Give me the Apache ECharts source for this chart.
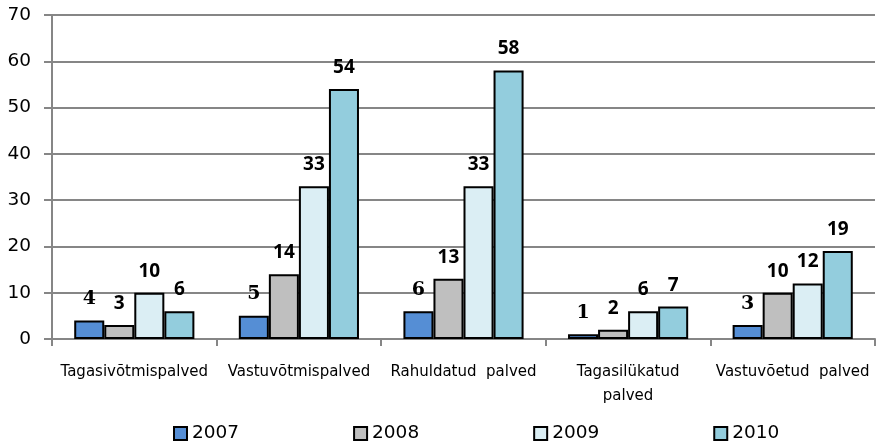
<!DOCTYPE html>
<html>
<head>
<meta charset="utf-8">
<script src="https://cdn.jsdelivr.net/npm/echarts@6/dist/echarts.min.js"></script>
<style>
  html, body { margin: 0; padding: 0; background: #fff; }
  #main { width: 876px; height: 446px; }
</style>
</head>
<body>
<div id="main"></div>
<script>
var categories = ['Tagasivõtmispalved', 'Vastuvõtmispalved', 'Rahuldatud  palved', 'Tagasilükatud\npalved', 'Vastuvõetud  palved'];
var years = ['2007', '2008', '2009', '2010'];
var values2007 = [4, 5, 6, 1, 3];
var values2008 = [3, 14, 13, 2, 10];
var values2009 = [10, 33, 33, 6, 12];
var values2010 = [6, 54, 58, 7, 19];
var colors = ['#558ed5', '#bfbfbf', '#dbeef4', '#93cddd'];

var myChart = echarts.init(document.getElementById('main'));

function makeSeries(name, data, color, labelFont) {
    return {
        name: name,
        type: 'bar',
        data: data,
        barGap: '0%',
        barCategoryGap: '27%',
        itemStyle: { color: color, borderColor: '#000', borderWidth: 2 },
        label: {
            show: true,
            position: 'top',
            distance: 12,
            color: '#000',
            fontSize: 19,
            fontWeight: 'bold',
            fontFamily: labelFont
        }
    };
}

myChart.setOption({
    animation: false,
    grid: { left: 52, right: 1, top: 15, bottom: 107 },
    legend: {
        data: years,
        top: 419,
        left: 168,
        itemWidth: 13,
        itemHeight: 13,
        itemGap: 114,
        icon: 'rect',
        textStyle: { fontSize: 18.5, color: '#000', fontFamily: 'DejaVu Sans' }
    },
    xAxis: {
        type: 'category',
        data: categories,
        axisLine: { lineStyle: { color: '#868686', width: 2 } },
        axisTick: { show: true, length: 7, lineStyle: { color: '#868686', width: 2 } },
        axisLabel: {
            color: '#000',
            fontSize: 15,
            fontFamily: 'DejaVu Sans',
            margin: 21,
            lineHeight: 24,
            interval: 0
        }
    },
    yAxis: {
        type: 'value',
        min: 0,
        max: 70,
        interval: 10,
        axisLine: { show: true, lineStyle: { color: '#868686', width: 2 } },
        axisTick: { show: true, length: 8, lineStyle: { color: '#868686', width: 2 } },
        splitLine: { lineStyle: { color: '#868686', width: 2 } },
        axisLabel: { color: '#000', fontSize: 18.5, fontFamily: 'DejaVu Sans', margin: 21 }
    },
    series: [
        makeSeries(years[0], values2007, colors[0], 'DejaVu Serif'),
        makeSeries(years[1], values2008, colors[1], 'Open Sans'),
        makeSeries(years[2], values2009, colors[2], 'Open Sans'),
        makeSeries(years[3], values2010, colors[3], 'Open Sans')
    ]
});
</script>
</body>
</html>
